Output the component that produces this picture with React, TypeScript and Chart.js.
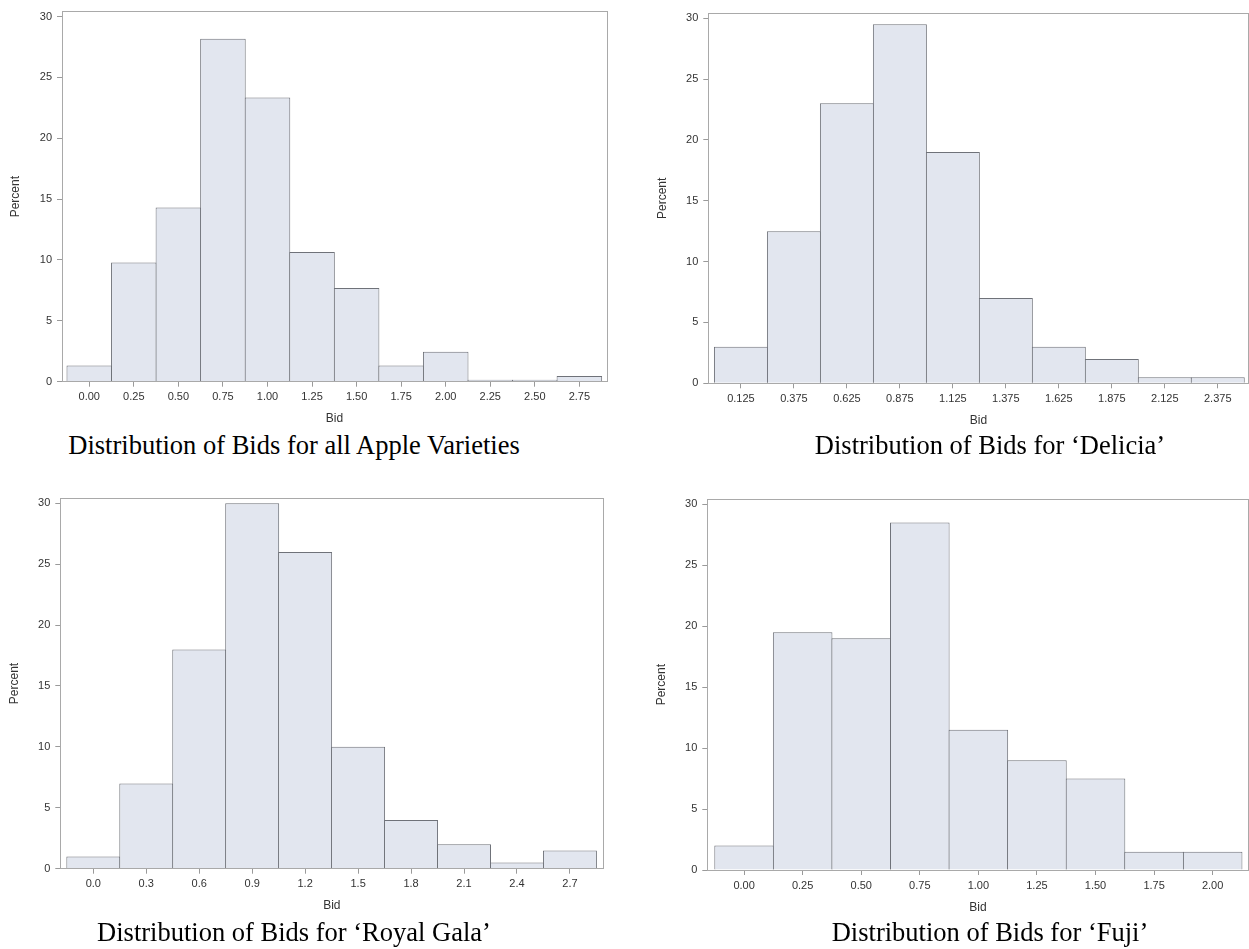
import React, { useEffect, useRef } from "react";
import { Chart, registerables } from "chart.js";

Chart.register(...registerables);

// ---------- data ----------
const allBins = [0, 0.25, 0.5, 0.75, 1.0, 1.25, 1.5, 1.75, 2.0, 2.25, 2.5, 2.75];
const allPercent = [1.33, 9.79, 14.31, 28.18, 23.34, 10.66, 7.7, 1.33, 2.47, 0.16, 0.16, 0.46];
const allTickLabels = ["0.00", "0.25", "0.50", "0.75", "1.00", "1.25", "1.50", "1.75", "2.00", "2.25", "2.50", "2.75"];
const allRange = [-0.153, 2.905];

const deliciaBins = [0.125, 0.375, 0.625, 0.875, 1.125, 1.375, 1.625, 1.875, 2.125, 2.375];
const deliciaPercent = [3, 12.5, 23, 29.5, 19, 7, 3, 2, 0.5, 0.5];
const deliciaTickLabels = ["0.125", "0.375", "0.625", "0.875", "1.125", "1.375", "1.625", "1.875", "2.125", "2.375"];
const deliciaRange = [-0.029, 2.52];

const galaBins = [0, 0.3, 0.6, 0.9, 1.2, 1.5, 1.8, 2.1, 2.4, 2.7];
const galaPercent = [1, 7, 18, 30, 26, 10, 4, 2, 0.5, 1.5];
const galaTickLabels = ["0.0", "0.3", "0.6", "0.9", "1.2", "1.5", "1.8", "2.1", "2.4", "2.7"];
const galaRange = [-0.187, 2.889];

const fujiBins = [0, 0.25, 0.5, 0.75, 1.0, 1.25, 1.5, 1.75, 2.0];
const fujiPercent = [2, 19.5, 19, 28.5, 11.5, 9, 7.5, 1.5, 1.5];
const fujiTickLabels = ["0.00", "0.25", "0.50", "0.75", "1.00", "1.25", "1.50", "1.75", "2.00"];
const fujiRange = [-0.157, 2.153];

const yMax = 30.4;
const yStep = 5;

// ---------- style ----------
const FILL = "#E2E6EF";
const EDGE = "#6F7279";
const FRAME = "#A9A9A9";
const TICKMARK = "#9A9A9A";
const TEXT = "#333333";
const SANS = '"Liberation Sans", Arial, sans-serif';
const SERIF = '"Liberation Serif", "Times New Roman", serif';

type Geo = {
  cx: number; cy: number; cw: number; ch: number;
  L: number; T: number; R: number; B: number;
  percentX: number; bidY: number;
};

const geoAll: Geo = { cx: 0, cy: 0, cw: 620, ch: 430, L: 62, T: 9.5, R: 607, B: 381.7, percentX: 16, bidY: 419 };
const geoDelicia: Geo = { cx: 640, cy: 0, cw: 609, ch: 432, L: 708.3, T: 13.3, R: 1248.5, B: 383.3, percentX: 662.7, bidY: 420.7 };
const geoGala: Geo = { cx: 0, cy: 470, cw: 620, ch: 448, L: 60.3, T: 498.3, R: 603.3, B: 868.7, percentX: 15, bidY: 906 };
const geoFuji: Geo = { cx: 640, cy: 470, cw: 609, ch: 449, L: 707.3, T: 499.3, R: 1248.5, B: 870, percentX: 661.7, bidY: 907.3 };

const framePlugin = {
  id: "frameBox",
  afterDraw(chart: any) {
    const { ctx, chartArea: a } = chart;
    ctx.save();
    ctx.strokeStyle = FRAME;
    ctx.lineWidth = 1;
    const l = Math.floor(a.left) + 0.5;
    const t = Math.floor(a.top) + 0.5;
    const r = Math.floor(a.right) + 0.5;
    const b = Math.floor(a.bottom) + 0.5;
    ctx.strokeRect(l, t, r - l, b - t);
    ctx.restore();
  },
};

type HistProps = {
  geo: Geo;
  bins: number[];
  values: number[];
  tickLabels: string[];
  range: number[];
  binWidth: number;
};

function Histogram({ geo, bins, values, tickLabels, range, binWidth }: HistProps) {
  const ref = useRef<HTMLCanvasElement>(null);
  useEffect(() => {
    const binPx = ((geo.R - geo.L) * binWidth) / (range[1] - range[0]);
    const half = 12 * 1.2 / 2;
    const chart = new Chart(ref.current as HTMLCanvasElement, {
      type: "bar",
      data: {
        datasets: [
          {
            data: bins.map((b, i) => ({ x: b, y: values[i] })),
            backgroundColor: FILL,
            borderColor: EDGE,
            borderWidth: 1,
            borderSkipped: "start",
            barPercentage: 1 + 1 / binPx,
            categoryPercentage: 1,
          } as any,
        ],
      },
      options: {
        animation: false,
        responsive: false,
        devicePixelRatio: 1,
        layout: {
          padding: { left: 0, top: geo.T - geo.cy, right: geo.cx + geo.cw - geo.R, bottom: 0 },
        },
        plugins: { legend: { display: false }, tooltip: { enabled: false } },
        scales: {
          x: {
            type: "linear",
            min: range[0],
            max: range[1],
            offset: false,
            afterBuildTicks: (s: any) => {
              s.ticks = bins.map((v) => ({ value: v }));
            },
            afterFit: (s: any) => {
              s.height = geo.cy + geo.ch - geo.B;
            },
            ticks: {
              autoSkip: false,
              maxRotation: 0,
              minRotation: 0,
              padding: 4,
              color: TEXT,
              font: { family: SANS, size: 11 },
              callback: (_v: any, i: number) => tickLabels[i],
            },
            grid: { display: true, drawOnChartArea: false, drawTicks: true, tickLength: 5, color: TICKMARK, offset: false },
            border: { display: false },
            title: {
              display: true,
              text: "Bid",
              color: TEXT,
              font: { family: SANS, size: 12 },
              padding: { top: 0, bottom: geo.cy + geo.ch - geo.bidY - half },
            },
          } as any,
          y: {
            type: "linear",
            min: 0,
            max: yMax,
            afterFit: (s: any) => {
              s.width = geo.L - geo.cx;
            },
            ticks: {
              stepSize: yStep,
              includeBounds: false,
              padding: 5,
              color: TEXT,
              font: { family: SANS, size: 11 },
            },
            grid: { display: true, drawOnChartArea: false, drawTicks: true, tickLength: 5, color: TICKMARK },
            border: { display: false },
            title: {
              display: true,
              text: "Percent",
              color: TEXT,
              font: { family: SANS, size: 12 },
              padding: { top: geo.percentX - geo.cx - half, bottom: 0 },
            },
          } as any,
        },
      },
      plugins: [framePlugin],
    });
    return () => chart.destroy();
  }, []);
  return (
    <canvas
      ref={ref}
      width={geo.cw}
      height={geo.ch}
      style={{ position: "absolute", left: geo.cx, top: geo.cy, width: geo.cw, height: geo.ch }}
    />
  );
}

function Caption({ text, centerX, top }: { text: string; centerX: number; top: number }) {
  return (
    <div
      style={{
        position: "absolute",
        left: centerX - 320,
        width: 640,
        top,
        textAlign: "center",
        fontFamily: SERIF,
        fontSize: 26.5,
        lineHeight: "30px",
        color: "#000",
        whiteSpace: "nowrap",
      }}
    >
      {text}
    </div>
  );
}

export default function App() {
  return (
    <div style={{ position: "absolute", left: 0, top: 0, width: 1249, height: 949, background: "#fff", overflow: "hidden" }}>
      <Histogram geo={geoAll} bins={allBins} values={allPercent} tickLabels={allTickLabels} range={allRange} binWidth={0.25} />
      <Histogram geo={geoDelicia} bins={deliciaBins} values={deliciaPercent} tickLabels={deliciaTickLabels} range={deliciaRange} binWidth={0.25} />
      <Histogram geo={geoGala} bins={galaBins} values={galaPercent} tickLabels={galaTickLabels} range={galaRange} binWidth={0.3} />
      <Histogram geo={geoFuji} bins={fujiBins} values={fujiPercent} tickLabels={fujiTickLabels} range={fujiRange} binWidth={0.25} />
      <Caption text="Distribution of Bids for all Apple Varieties" centerX={294} top={430} />
      <Caption text="Distribution of Bids for ‘Delicia’" centerX={990} top={430} />
      <Caption text="Distribution of Bids for ‘Royal Gala’" centerX={294} top={916.7} />
      <Caption text="Distribution of Bids for ‘Fuji’" centerX={990} top={916.7} />
    </div>
  );
}
